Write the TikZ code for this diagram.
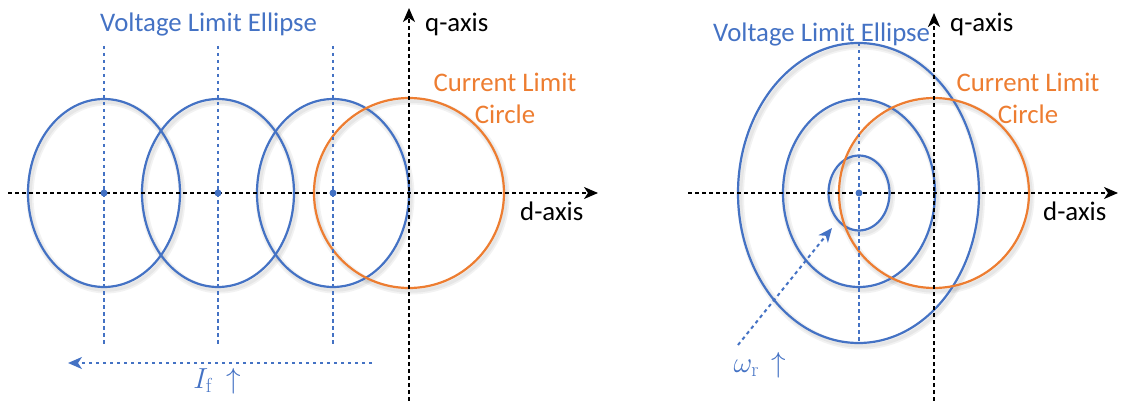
\RequirePackage{fix-cm}
\documentclass[tikz,border=0pt]{standalone}
\usepackage[no-math]{fontspec}
\setmainfont{Carlito}
\usetikzlibrary{arrows.meta}
\definecolor{vblue}{HTML}{4472C4}
\definecolor{corange}{HTML}{ED7D31}
\begin{document}
\begin{tikzpicture}[x=1pt,y=-1pt,
  tip/.style={-{Stealth[length=14pt,width=12pt,inset=4pt]}},
  axis/.style={black, line width=2pt, dash pattern=on 4pt off 3pt, tip},
  guide/.style={vblue, line width=2pt, dash pattern=on 3.5pt off 3.5pt},
  ell/.style={vblue, line width=2.2pt},
  cur/.style={corange, line width=2.2pt},
  shd/.style={black, opacity=0.05, line width=7pt, shift={(2,3)}},
  shd2/.style={black, opacity=0.05, line width=3.5pt, shift={(2,3)}},
  lbl/.style={inner sep=0pt, font=\fontsize{26.8}{30}\selectfont},
  mlbl/.style={inner sep=0pt, font=\fontsize{29}{32}\selectfont},
  dot/.style={vblue, fill=vblue}]
\useasboundingbox (0,0) rectangle (1122,401);

% ---------- left panel ----------
\foreach \cx in {104,218,333}{
  \draw[shd] (\cx,193) ellipse [x radius=76, y radius=94];
  \draw[shd2] (\cx,193) ellipse [x radius=76, y radius=94];
}
\draw[shd] (409,193) circle [radius=95];
\draw[shd2] (409,193) circle [radius=95];
\draw[ell] (104,193) ellipse [x radius=76, y radius=94];
\draw[ell] (218,193) ellipse [x radius=76, y radius=94];
\draw[ell] (333,193) ellipse [x radius=76, y radius=94];
\draw[cur] (409,193) circle [radius=95];

\coordinate (L-g1a) at (104,46); \coordinate (L-g1b) at (104,345);
\coordinate (L-g2a) at (218,46); \coordinate (L-g2b) at (218,345);
\coordinate (L-g3a) at (333,46); \coordinate (L-g3b) at (333,345);
\draw[guide] (L-g1a) -- (L-g1b);
\draw[guide] (L-g2a) -- (L-g2b);
\draw[guide] (L-g3a) -- (L-g3b);

\coordinate (L-dS) at (8,193);   \coordinate (L-dE) at (598,193);
\coordinate (L-qS) at (409,401); \coordinate (L-qE) at (409,8);
\draw[axis] (L-dS) -- (L-dE);
\draw[axis] (L-qS) -- (L-qE);

\fill[dot] (104,193) circle [radius=3.5];
\fill[dot] (218,193) circle [radius=3.5];
\fill[dot] (333,193) circle [radius=3.5];

\coordinate (L-fS) at (372,363); \coordinate (L-fE) at (68,363);
\draw[guide, tip] (L-fS) -- (L-fE);

\node[lbl, text=vblue, anchor=base west] (L-vle) at (100,32) {Voltage Limit Ellipse};
\node[lbl, anchor=base west] (L-q) at (425,32) {q-axis};
\node[lbl, anchor=base west] (L-d) at (520,220) {d-axis};
\node[lbl, text=corange, anchor=base] (L-cl1) at (505,92) {Current Limit};
\node[lbl, text=corange, anchor=base] (L-cl2) at (505,124) {Circle};
\node[mlbl, text=vblue, anchor=base] (L-if) at (217,388) {$I_{\mathrm{f}}\,\uparrow$};

% ---------- right panel ----------
\foreach \rx/\ry in {30.5/37.5,76/94,120.5/150}{
  \draw[shd] (859,193) ellipse [x radius=\rx, y radius=\ry];
  \draw[shd2] (859,193) ellipse [x radius=\rx, y radius=\ry];
}
\draw[shd] (934,193) circle [radius=95];
\draw[shd2] (934,193) circle [radius=95];
\draw[ell] (859,193) ellipse [x radius=30.5, y radius=37.5];
\draw[ell] (859,193) ellipse [x radius=76, y radius=94];
\draw[ell] (858.5,193) ellipse [x radius=120.5, y radius=150];
\draw[cur] (934,193) circle [radius=95];

\coordinate (R-ga) at (859,43); \coordinate (R-gb) at (859,344);
\draw[guide] (R-ga) -- (R-gb);

\coordinate (R-dS) at (688,193);  \coordinate (R-dE) at (1118,193);
\coordinate (R-qS) at (934,401);  \coordinate (R-qE) at (934,13);
\draw[axis] (R-dS) -- (R-dE);
\draw[axis] (R-qS) -- (R-qE);

\fill[dot] (859,193) circle [radius=3.5];

\coordinate (R-wS) at (738,345); \coordinate (R-wE) at (832,228);
\draw[guide, tip] (R-wS) -- (R-wE);

\node[lbl, text=vblue, anchor=base west] (R-vle) at (713,42) {Voltage Limit Ellipse};
\node[lbl, anchor=base west] (R-q) at (950,32) {q-axis};
\node[lbl, anchor=base west] (R-d) at (1043,220) {d-axis};
\node[lbl, text=corange, anchor=base] (R-cl1) at (1028,92) {Current Limit};
\node[lbl, text=corange, anchor=base] (R-cl2) at (1028,124) {Circle};
\node[mlbl, text=vblue, anchor=base] (R-w) at (760,372) {$\omega_{\mathrm{r}}\,\uparrow$};
\end{tikzpicture}
\end{document}
